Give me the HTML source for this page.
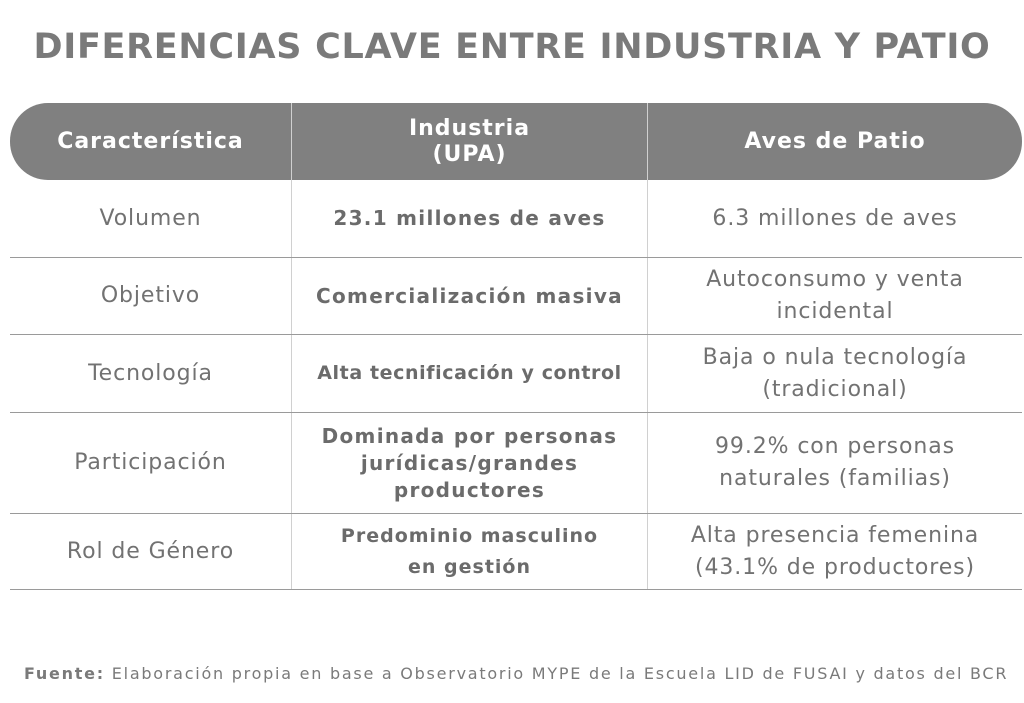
<!DOCTYPE html>
<html><head><meta charset="utf-8"><style>
html,body{margin:0;padding:0;background:#fff;}
body{width:1024px;height:703px;position:relative;overflow:hidden;font-family:"DejaVu Sans","Liberation Sans",sans-serif;color:#6b6b6b;}
.t{position:absolute;left:0;width:1024px;top:27px;text-align:center;font-size:35px;font-weight:bold;color:#7a7a7a;letter-spacing:0.7px;}
.hdr{position:absolute;left:10px;top:103px;width:1012px;height:77px;background:#808080;border-radius:38px;}
.vl{position:absolute;width:1px;background:#d0d0d0;}
.hl{position:absolute;left:10px;width:1012px;height:1px;background:#9a9a9a;}
.c{position:absolute;display:flex;align-items:center;justify-content:center;text-align:center;}
.h{color:#fff;font-weight:bold;font-size:22px;line-height:26px;letter-spacing:1px;}
.n{font-size:22px;line-height:32px;color:#727272;letter-spacing:0.9px;font-weight:normal;}
.b{font-size:20px;font-weight:bold;line-height:27px;color:#6b6b6b;letter-spacing:1.3px;}
.f{position:absolute;left:24px;top:664px;font-size:16px;color:#7a7a7a;letter-spacing:1.75px;white-space:nowrap;}
</style></head><body>
<div class="t">DIFERENCIAS CLAVE ENTRE INDUSTRIA Y PATIO</div>
<div class="hdr"></div>
<div class="vl" style="left:291px;top:103px;height:487px"></div>
<div class="vl" style="left:647px;top:103px;height:487px"></div>
<div class="hl" style="top:257px"></div>
<div class="hl" style="top:334px"></div>
<div class="hl" style="top:412px"></div>
<div class="hl" style="top:513px"></div>
<div class="hl" style="top:589px"></div>

<div class="c h" style="left:10px;width:281px;top:103px;height:77px">Característica</div>
<div class="c h" style="left:292px;width:355px;top:103px;height:77px">Industria<br>(UPA)</div>
<div class="c h" style="left:648px;width:374px;top:103px;height:77px">Aves de Patio</div>

<div class="c n" style="left:10px;width:281px;top:180px;height:77px">Volumen</div>
<div class="c b" style="left:292px;width:355px;top:180px;height:77px">23.1 millones de aves</div>
<div class="c n" style="left:648px;width:374px;top:180px;height:77px">6.3 millones de aves</div>

<div class="c n" style="left:10px;width:281px;top:258px;height:76px">Objetivo</div>
<div class="c b" style="left:292px;width:355px;top:258px;height:76px">Comercialización masiva</div>
<div class="c n" style="left:648px;width:374px;top:258px;height:76px">Autoconsumo y venta<br>incidental</div>

<div class="c n" style="left:10px;width:281px;top:335px;height:77px">Tecnología</div>
<div class="c b" style="left:292px;width:355px;top:335px;height:77px;font-size:19px;letter-spacing:0.6px">Alta tecnificación y control</div>
<div class="c n" style="left:648px;width:374px;top:335px;height:77px">Baja o nula tecnología<br>(tradicional)</div>

<div class="c n" style="left:10px;width:281px;top:413px;height:100px">Participación</div>
<div class="c b" style="left:292px;width:355px;top:413px;height:100px">Dominada por personas<br>jurídicas/grandes<br>productores</div>
<div class="c n" style="left:648px;width:374px;top:413px;height:100px">99.2% con personas<br>naturales (familias)</div>

<div class="c n" style="left:10px;width:281px;top:514px;height:75px">Rol de Género</div>
<div class="c b" style="left:292px;width:355px;top:514px;height:75px;font-size:19px;line-height:31px;letter-spacing:1px">Predominio masculino<br>en gestión</div>
<div class="c n" style="left:648px;width:374px;top:514px;height:75px">Alta presencia femenina<br>(43.1% de productores)</div>

<div class="f"><b>Fuente:</b> Elaboración propia en base a Observatorio MYPE de la Escuela LID de FUSAI y datos del BCR</div>
</body></html>
